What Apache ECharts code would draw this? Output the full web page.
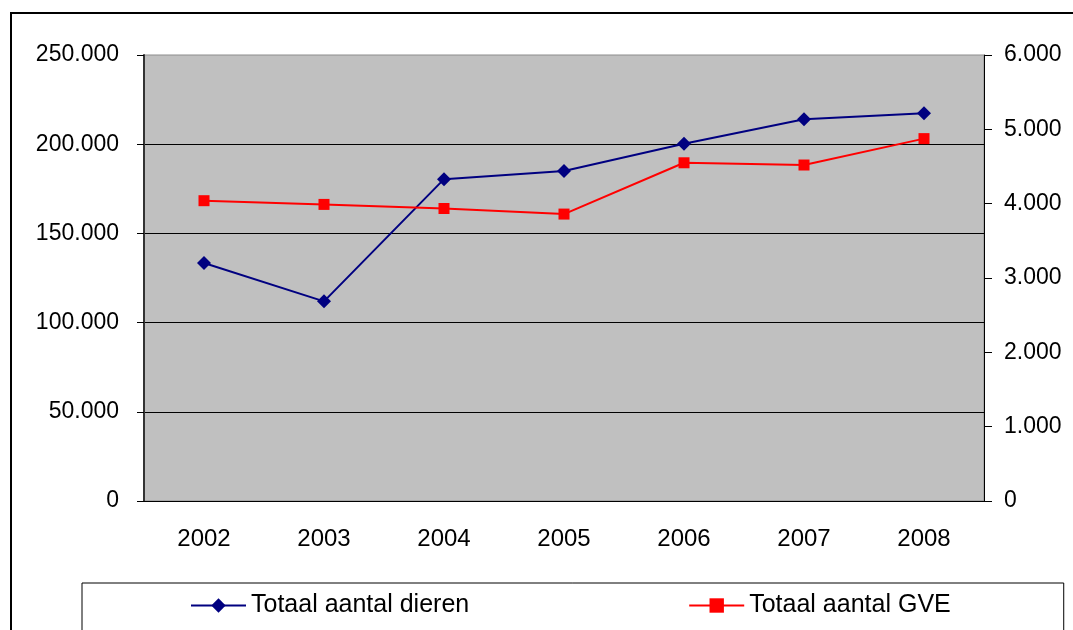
<!DOCTYPE html>
<html>
<head>
<meta charset="utf-8">
<script src="https://cdn.jsdelivr.net/npm/echarts@6/dist/echarts.min.js"></script>
<style>
  html, body { margin: 0; padding: 0; background: #fff; }
  #chart { width: 1073px; height: 630px; }
</style>
</head>
<body>
<div id="chart"></div>
<script>
// data
var years = ['2002', '2003', '2004', '2005', '2006', '2007', '2008'];
var dieren = [133400, 111900, 180400, 185000, 200300, 214000, 217400];
var gve = [4040, 3990, 3935, 3860, 4550, 4520, 4875];
var leftTicks = { min: 0, max: 250000, interval: 50000 };
var rightTicks = { min: 0, max: 6000, interval: 1000 };

function dots(v) {
    return String(v).replace(/\B(?=(\d{3})+(?!\d))/g, '.');
}

var font = 'Liberation Sans, Arial, sans-serif';
var chart = echarts.init(document.getElementById('chart'));

chart.setOption({
    animation: false,
    textStyle: { fontFamily: font },
    graphic: [{
        type: 'rect',
        z: -1,
        shape: { x: 11, y: 13, width: 1200, height: 800 },
        style: { fill: 'none', stroke: '#000', lineWidth: 2 }
    }],
    grid: {
        left: 144,
        right: 89,
        top: 55,
        bottom: 129,
        show: true,
        backgroundColor: '#C0C0C0',
        borderColor: '#8c8c8c',
        borderWidth: 1
    },
    legend: {
        left: 82,
        top: 583,
        padding: [10, 113, 40, 108],
        itemGap: 219,
        itemWidth: 55,
        itemHeight: 18,
        borderColor: '#000',
        borderWidth: 1,
        backgroundColor: '#fff',
        textStyle: { fontSize: 25, color: '#000', fontFamily: font },
        data: ['Totaal aantal dieren', 'Totaal aantal GVE']
    },
    xAxis: {
        type: 'category',
        data: years,
        boundaryGap: true,
        axisLine: { lineStyle: { color: '#000', width: 1 } },
        axisTick: { length: 8, lineStyle: { color: '#000' } },
        axisLabel: { fontSize: 24, color: '#000', margin: 26 }
    },
    yAxis: [{
        type: 'value',
        min: leftTicks.min,
        max: leftTicks.max,
        interval: leftTicks.interval,
        axisLine: { show: true, lineStyle: { color: '#333', width: 2 } },
        axisTick: { show: true, length: 7, lineStyle: { color: '#000' } },
        axisLabel: { fontSize: 23, color: '#000', margin: 25, formatter: dots },
        splitLine: { show: true, showMaxLine: false, lineStyle: { color: '#000', width: 1 } }
    }, {
        type: 'value',
        min: rightTicks.min,
        max: rightTicks.max,
        interval: rightTicks.interval,
        position: 'right',
        axisLine: { show: true, lineStyle: { color: '#000', width: 1 } },
        axisTick: { show: true, length: 8, inside: false, lineStyle: { color: '#000' } },
        axisLabel: { fontSize: 23, color: '#000', margin: 20, formatter: dots },
        splitLine: { show: false }
    }],
    series: [{
        name: 'Totaal aantal dieren',
        type: 'line',
        yAxisIndex: 0,
        data: dieren,
        symbol: 'diamond',
        symbolSize: 14,
        color: '#000080',
        lineStyle: { color: '#000080', width: 2 },
        itemStyle: { color: '#000080' }
    }, {
        name: 'Totaal aantal GVE',
        type: 'line',
        yAxisIndex: 1,
        data: gve,
        symbol: 'rect',
        symbolSize: 11,
        color: '#FF0000',
        lineStyle: { color: '#FF0000', width: 2 },
        itemStyle: { color: '#FF0000' }
    }]
});
</script>
</body>
</html>
